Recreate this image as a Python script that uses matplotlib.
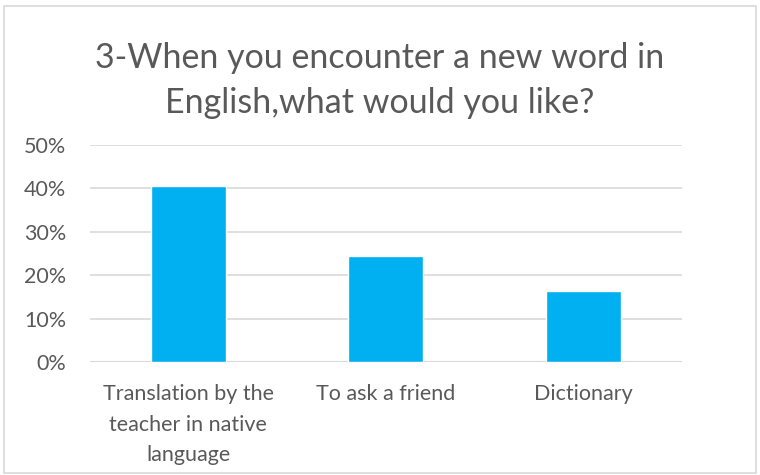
import matplotlib
matplotlib.use("Agg")
import matplotlib.pyplot as plt
from matplotlib.patches import Rectangle
from matplotlib.ticker import PercentFormatter

plt.rcParams['font.family'] = ['Lato', 'DejaVu Sans']

# data
categories = ["Translation by the\nteacher in native\nlanguage", "To ask a friend", "Dictionary"]
values = [40.5, 24.4, 16.4]
title = "3-When you encounter a new word in\nEnglish,what would you like?"

txt_color = "#595959"
grid_color = "#D9D9D9"
bar_color = "#00B0F0"

fig = plt.figure(figsize=(7.6, 4.75), dpi=100)
ax = fig.add_axes([0.118, 0.238, 0.779, 0.457])

x = range(len(categories))
ax.bar(x, values, width=0.38, color=bar_color, edgecolor="white", linewidth=1, zorder=3)

ax.set_xlim(-0.5, len(categories) - 0.5)
ax.set_ylim(0, 50)
ax.set_yticks([0, 10, 20, 30, 40, 50])
ax.yaxis.set_major_formatter(PercentFormatter(decimals=0))
ax.grid(axis="y", color=grid_color, linewidth=1.2, zorder=0)
ax.set_axisbelow(True)
for s in ax.spines.values():
    s.set_visible(False)
ax.axhline(0, color=grid_color, linewidth=1.5, zorder=2)

ax.set_xticks(list(x))
ax.set_xticklabels(categories, linespacing=1.65)
ax.tick_params(axis="both", length=0, colors=txt_color, labelsize=15.5)
ax.tick_params(axis="x", pad=16)
ax.tick_params(axis="y", pad=17)

fig.text(0.5, 0.83, title, ha="center", va="center", fontsize=24.5,
         color=txt_color, linespacing=1.5)

fig.patches.append(Rectangle((0.005, 0.005), 0.99, 0.982, transform=fig.transFigure,
                             fill=False, edgecolor="#D9D9D9", linewidth=1.2))

fig.savefig("out.png", dpi=100, facecolor="white")
